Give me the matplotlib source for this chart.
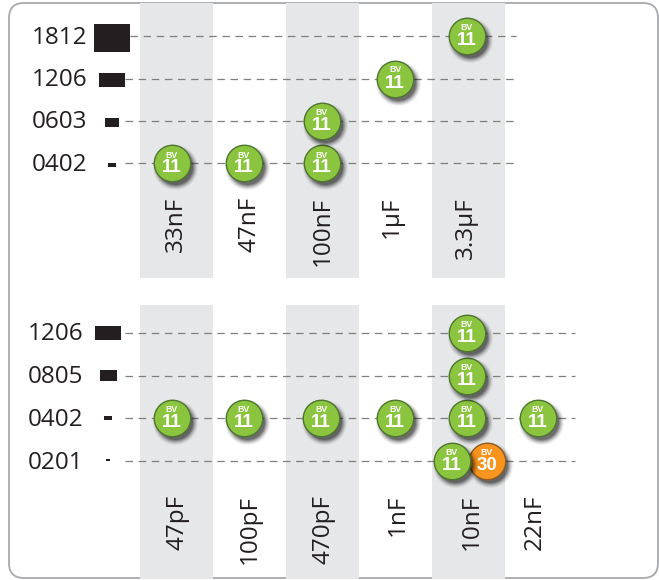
"""Capacitor availability matrix: case size vs capacitance, marked by voltage rating."""
import matplotlib
matplotlib.use("Agg")
import matplotlib.pyplot as plt
from matplotlib.patches import FancyBboxPatch

# top panel
top_sizes = ["1812", "1206", "0603", "0402"]
top_caps = ["33nF", "47nF", "100nF", "1µF", "3.3µF"]
top_point_size = ["0402", "0402", "0402", "0603", "1206", "1812"]
top_point_cap = ["33nF", "47nF", "100nF", "100nF", "1µF", "3.3µF"]
top_point_bv = [11, 11, 11, 11, 11, 11]

# bottom panel
bot_sizes = ["1206", "0805", "0402", "0201"]
bot_caps = ["47pF", "100pF", "470pF", "1nF", "10nF", "22nF"]
bot_point_size = ["0402", "0402", "0402", "0402", "0402", "0402", "0805", "1206", "0201", "0201"]
bot_point_cap = ["47pF", "100pF", "470pF", "1nF", "10nF", "22nF", "10nF", "10nF", "10nF", "10nF"]
bot_point_bv = [11, 11, 11, 11, 11, 11, 11, 11, 30, 11]

W, H = 659, 580
COL_W = 73.0
BV_COLOURS = {11: ("#8BC53F", "#4E7430"), 30: ("#F7941E", "#8C5A1E")}
DARK = "#231F20"
BAND = "#E6E7E8"
FONT = "Open Sans"


def make_panel(fig, x0, y0, dy):
    """Full-figure axes: column index 0 sits at pixel x0, row index 0 at pixel y0."""
    ax = fig.add_axes([0, 0, 1, 1])
    ax.set_xlim((0 - x0) / COL_W, (W - x0) / COL_W)
    ax.set_ylim((H - y0) / dy, (0 - y0) / dy)
    ax.axis("off")
    ax.patch.set_alpha(0)
    return ax


def draw_panel(ax, sizes, caps, pt_size, pt_cap, pt_bv, dy, cfg):
    # grey bands behind every other column
    for i in range(0, len(caps), 2):
        if i < 5:
            ax.bar(i, (cfg["band"][1] - cfg["band"][0]) / dy, bottom=cfg["band"][0] / dy - cfg["y0"] / dy,
                   width=1.0, color=BAND, linewidth=0, zorder=1)

    # dashed row guides and case size labels / footprints
    for r, name in enumerate(sizes):
        ax.plot([(cfg["line_x"][r] - cfg["x0"]) / COL_W, (cfg["line_end"] - cfg["x0"]) / COL_W], [r, r],
                color="#7F7F7F", lw=0.9, dashes=(6, 4.5), zorder=2)
        ax.text((cfg["label_x"] - cfg["x0"]) / COL_W, r + cfg["label_dy"] / dy, name, ha="right", va="center",
                fontsize=17.5, color=DARK, family=FONT, zorder=3)
        left, right, top, bottom = cfg["foot"][r]
        ax.bar((left + right) / 2 / COL_W - cfg["x0"] / COL_W, (bottom - top) / dy,
               bottom=(top - cfg["y0"]) / dy, width=(right - left) / COL_W,
               color=DARK, linewidth=0, zorder=3)

    # capacitance labels
    for i, name in enumerate(caps):
        ax.text((cfg["cap_x"][i] - cfg["x0"]) / COL_W, (cfg["cap_top"] - cfg["y0"]) / dy, name,
                rotation=90, ha="center", va="top", fontsize=17.5, color=DARK, family=FONT, zorder=3)

    # rating markers, later points drawn on top of earlier ones
    for n, (s, c, bv) in enumerate(zip(pt_size, pt_cap, pt_bv)):
        x = caps.index(c) + (cfg["nudge"][caps.index(c)] + cfg["extra"].get((c, s, bv), 0)) / COL_W
        y = sizes.index(s)
        z = 5 + n * 0.1
        for grow, alpha in [(45, 0.05), (43, 0.07), (41, 0.10), (39, 0.14), (37, 0.18), (35, 0.22)]:
            ax.scatter(x + 3 / COL_W, y + 4 / dy, s=(grow * 0.72) ** 2, color="#000000", alpha=alpha,
                       linewidths=0, zorder=z)
        fill, edge = BV_COLOURS[bv]
        ax.scatter(x, y, s=(36.5 * 0.72) ** 2, color=fill, edgecolors=edge, linewidths=1.0, zorder=z + 0.01)
        ax.text(x, y - 8.5 / dy, "BV", ha="center", va="center", fontsize=6.3, fontweight="bold",
                color="white", family="Liberation Sans", zorder=z + 0.02)
        ax.text(x, y + 4.5 / dy, str(bv), ha="center", va="center", fontsize=13.5, fontweight="bold",
                color="white", family="Liberation Sans", zorder=z + 0.02)


fig = plt.figure(figsize=(W / 100, H / 100), dpi=100, facecolor="white")

# rounded outer frame
bg = fig.add_axes([0, 0, 1, 1])
bg.set_xlim(0, W)
bg.set_ylim(H, 0)
bg.axis("off")
bg.add_patch(FancyBboxPatch((9, 3), 649, 575, boxstyle="round,pad=0,rounding_size=15",
                            facecolor="white", edgecolor="#A7A9AC", linewidth=1.3))

top_dy = 42.5
top_cfg = {
    "x0": 176.5, "y0": 36.0, "band": (3, 278), "line_x": [130, 125, 125, 125], "line_end": 516,
    "label_x": 87, "label_dy": 1.5,
    "foot": [(94, 130, 24, 52), (99, 125, 73, 87), (105, 119, 118, 127), (108, 116, 163, 167)],
    "cap_x": [176, 250, 323, 392, 466], "cap_top": 197,
    "nudge": [-4.5, -5.5, -0.5, -0.5, -1.5], "extra": {},
}
ax_top = make_panel(fig, top_cfg["x0"], top_cfg["y0"], top_dy)
draw_panel(ax_top, top_sizes, top_caps, top_point_size, top_point_cap, top_point_bv, top_dy, top_cfg)

bot_dy = 42.7
bot_cfg = {
    "x0": 176.5, "y0": 333.0, "band": (305, 579), "line_x": [125, 125, 125, 125], "line_end": 575,
    "label_x": 83, "label_dy": 1.5,
    "foot": [(95, 121, 326, 340), (100, 117, 370, 381), (104, 112, 416, 420), (106, 110, 459, 461)],
    "cap_x": [177, 250, 324, 398, 472, 535], "cap_top": 495,
    "nudge": [-4.5, -5.5, -1.5, -0.5, -1.5, -3.5],
    "extra": {("10nF", "0201", 11): -15, ("10nF", "0201", 30): 20},
}
ax_bot = make_panel(fig, bot_cfg["x0"], bot_cfg["y0"], bot_dy)
draw_panel(ax_bot, bot_sizes, bot_caps, bot_point_size, bot_point_cap, bot_point_bv, bot_dy, bot_cfg)

fig.savefig("out.png", dpi=100)
